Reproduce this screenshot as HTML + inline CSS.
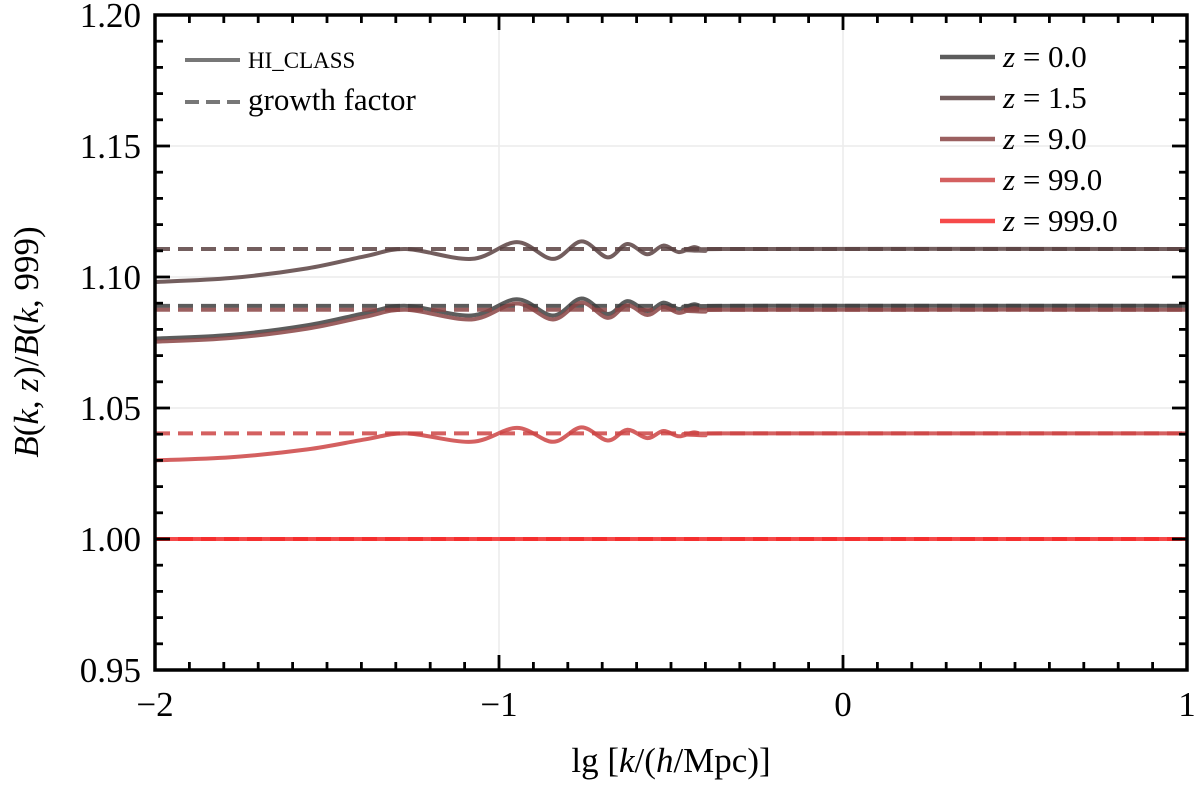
<!DOCTYPE html>
<html><head><meta charset="utf-8"><style>
body{margin:0;background:#fff}
svg text{font-family:"Liberation Serif",serif;fill:#000}
</style></head><body>
<svg id="chart" width="1200" height="789" viewBox="0 0 1200 789" xmlns="http://www.w3.org/2000/svg">
<g id="grid"></g>
<g id="series"></g>
<g id="axes"></g>
<g>
 <line x1="185" y1="60" x2="240" y2="60" stroke="#777" stroke-width="4"/>
 <text x="248" y="68" font-size="23">HI_CLASS</text>
 <line x1="185" y1="102" x2="240" y2="102" stroke="#777" stroke-width="4" stroke-dasharray="14,7"/>
 <text x="248" y="110" font-size="31">growth factor</text>
</g>
<g id="legend"></g>
<text x="671" y="772" font-size="35" text-anchor="middle">lg [<tspan font-style="italic">k</tspan>/(<tspan font-style="italic">h</tspan>/Mpc)]</text>
<text transform="translate(38,342) rotate(-90)" font-size="35" text-anchor="middle"><tspan font-style="italic">B</tspan>(<tspan font-style="italic">k</tspan>, <tspan font-style="italic">z</tspan>)/<tspan font-style="italic">B</tspan>(<tspan font-style="italic">k</tspan>, 999)</text>
</svg>
<script>
const xs=[-2,-1.78,-1.557,-1.39,-1.27,-1.08,-0.948,-0.843,-0.76,-0.684,-0.627,-0.569,-0.522,-0.477,-0.433,-0.40,-0.35,1];
const redshifts=["0.0","1.5","9.0","99.0","999.0"];
const colors=["#404040","#5a4242","#8a4444","#cc4444","#f52a2a"];
const growth=[1.0890,1.1107,1.0875,1.0403,1.0];
const s_z0=[1.0765,1.0779,1.0816,1.0862,1.0890,1.0853,1.0915,1.0853,1.0918,1.0859,1.0908,1.0870,1.0902,1.0878,1.0896,1.0883,1.0890,1.0890];
const s_z1=[1.0981,1.0996,1.1033,1.1079,1.1107,1.1069,1.1133,1.1069,1.1136,1.1075,1.1126,1.1087,1.1120,1.1095,1.1114,1.1100,1.1107,1.1107];
const s_z9=[1.0753,1.0767,1.0803,1.0848,1.0875,1.0838,1.0899,1.0838,1.0902,1.0844,1.0892,1.0855,1.0886,1.0863,1.0881,1.0868,1.0875,1.0875];
const s_z99=[1.0300,1.0312,1.0342,1.0380,1.0403,1.0371,1.0424,1.0371,1.0426,1.0376,1.0417,1.0385,1.0412,1.0392,1.0407,1.0396,1.0403,1.0403];
const s_z999=[1,1,1,1,1,1,1,1,1,1,1,1,1,1,1,1,1,1];
const xTicks=[-2,-1,0,1];
const xTickLabels=["\u22122","\u22121","0","1"];
const yTicks=[0.95,1.00,1.05,1.10,1.15,1.20];
const yTickLabels=["0.95","1.00","1.05","1.10","1.15","1.20"];

const L=155,R=1187,T=15,B=670,X0=-2,X1=1,Y0=0.95,Y1=1.20;
const sx=v=>L+(v-X0)/(X1-X0)*(R-L);
const sy=v=>B-(v-Y0)/(Y1-Y0)*(B-T);
const NS="http://www.w3.org/2000/svg";
function mk(tag,at,parent){const e=document.createElementNS(NS,tag);for(const k in at)e.setAttribute(k,at[k]);parent.appendChild(e);return e;}
const grid=document.getElementById('grid'),axes=document.getElementById('axes'),ser=document.getElementById('series'),leg=document.getElementById('legend');

xTicks.forEach(v=>{const g=mk('line',{x1:sx(v),x2:sx(v),y1:T,y2:B,stroke:'#ececec','stroke-width':1.5},grid);

});
yTicks.forEach(v=>{const g=mk('line',{x1:L,x2:R,y1:sy(v),y2:sy(v),stroke:'#ececec','stroke-width':1.5},grid);

});

function pathFor(vals){
  const p=xs.map((x,i)=>[sx(x),sy(vals[i])]);
  let d=`M${p[0][0]},${p[0][1]}`;
  for(let i=0;i<p.length-1;i++){
    const p0=p[Math.max(0,i-1)],p1=p[i],p2=p[i+1],p3=p[Math.min(p.length-1,i+2)];
    const c1=[p1[0]+(p2[0]-p0[0])/6,p1[1]+(p2[1]-p0[1])/6];
    const c2=[p2[0]-(p3[0]-p1[0])/6,p2[1]-(p3[1]-p1[1])/6];
    if(i===p.length-2){c2[0]=p2[0]-(p2[0]-p1[0])/3;c2[1]=p2[1];}
    d+=` C${c1[0]},${c1[1]} ${c2[0]},${c2[1]} ${p2[0]},${p2[1]}`;
  }
  return d;
}
const allSeries=[s_z0,s_z1,s_z9,s_z99,s_z999];
allSeries.forEach((vals,i)=>{
  const dl=mk('line',{x1:sx(X0),x2:sx(X1),y1:sy(growth[i]),y2:sy(growth[i]),stroke:colors[i],'stroke-width':4,'stroke-dasharray':'15,8','stroke-opacity':0.85},ser);
  
  
  const pl=mk('path',{d:pathFor(vals),fill:'none',stroke:colors[i],'stroke-width':4,'stroke-opacity':0.85},ser);
  
  
  const y=57+41*i;
  const ll=mk('line',{x1:940,x2:995,y1:y,y2:y,stroke:colors[i],'stroke-width':4.5,'stroke-opacity':0.85},leg);
  
  
  const t=mk('text',{x:1003,y:y+10,'font-size':31},leg);
  
  
  t.innerHTML='<tspan font-style="italic">z</tspan> = '+redshifts[i];
});

for(let k=0;k<=30;k++){const v=X0+k*0.1;const major=k%10===0;const len=major?15:8;
 [[B,B-len],[T,T+len]].forEach(a=>{const t=mk('line',{x1:sx(v),x2:sx(v),y1:a[0],y2:a[1],stroke:'#000','stroke-width':2.8},axes);
 
 });}
for(let k=0;k<=25;k++){const v=Y0+k*0.01;const major=k%5===0;const len=major?15:8;
 [[L,L+len],[R,R-len]].forEach(a=>{const t=mk('line',{x1:a[0],x2:a[1],y1:sy(v),y2:sy(v),stroke:'#000','stroke-width':2.8},axes);
 
 });}
xTicks.forEach((v,i)=>{const t=mk('text',{x:sx(v),y:716,'font-size':35,'text-anchor':'middle'},axes);t.textContent=xTickLabels[i];

});
yTicks.forEach((v,i)=>{const t=mk('text',{x:141,y:sy(v)+12,'font-size':35,'text-anchor':'end'},axes);t.textContent=yTickLabels[i];

});
const fr=mk('rect',{x:L,y:T,width:R-L,height:B-T,fill:'none',stroke:'#000','stroke-width':3.5},axes);


</script>
</body></html>
